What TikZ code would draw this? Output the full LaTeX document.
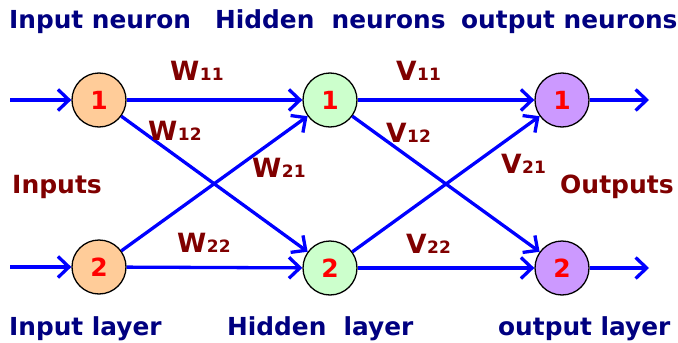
\documentclass[tikz,border=0pt]{standalone}
\usepackage{fontspec}
\setmainfont{DejaVu Sans}
\usetikzlibrary{arrows.meta}
\definecolor{navy}{HTML}{000080}
\definecolor{darkred}{HTML}{800000}
\definecolor{infill}{HTML}{FFCC99}
\definecolor{hidfill}{HTML}{CCFFCC}
\definecolor{outfill}{HTML}{CC99FF}
\newcommand\wlab[2]{{\fontsize{26.5}{26.5}\selectfont #1}\kern0.5pt{\fontsize{17}{17}\selectfont #2}}
\begin{document}
\begin{tikzpicture}[x=1pt,y=-1pt,
  neuron/.style={circle,draw=black,line width=1.3pt,minimum size=54pt,inner sep=0pt,text=red,font=\fontsize{25}{25}\selectfont\bfseries},
  conn/.style={draw=blue,line width=3.3pt,-{Straight Barb[length=11pt,width=21pt]}},
  title/.style={text=navy,font=\fontsize{24.8}{25}\selectfont\bfseries,anchor=base west,inner sep=0pt},
  side/.style={text=darkred,font=\fontsize{25}{25}\selectfont\bfseries,anchor=base west,inner sep=0pt},
  lab/.style={text=darkred,font=\bfseries,anchor=base west,inner sep=0pt}]
\useasboundingbox (0,0) rectangle (678,343);
% titles
\node[title] (t1) at (9,28) {Input neuron};
\node[title] (t2) at (215,28) {Hidden\ \ neurons};
\node[title] (t3) at (461,28) {output neurons};
\node[title] (b1) at (9,335) {Input layer};
\node[title] (b2) at (227,335) {Hidden\ \ layer};
\node[title] (b3) at (498,335) {output layer};
\node[side] (ins) at (12,193) {Inputs};
\node[side] (outs) at (560,193) {Outputs};
% neurons
\node[neuron,fill=infill] (i1) at (99,100) {1};
\node[neuron,fill=infill] (i2) at (99,267) {2};
\node[neuron,fill=hidfill] (h1) at (330,100) {1};
\node[neuron,fill=hidfill] (h2) at (330,268) {2};
\node[neuron,fill=outfill] (o1) at (562,100) {1};
\node[neuron,fill=outfill] (o2) at (562,268) {2};
\coordinate (a1) at (10,100);
\coordinate (a2) at (10,267);
\coordinate (e1) at (649,100);
\coordinate (e2) at (649,268);
% connectors
\draw[conn] (a1) -- (i1);
\draw[conn] (a2) -- (i2);
\draw[conn] (i1) -- (h1);
\draw[conn] (i1) -- (h2);
\draw[conn] (i2) -- (h1);
\draw[conn] (i2) -- (h2);
\draw[conn] (h1) -- (o1);
\draw[conn] (h1) -- (o2);
\draw[conn] (h2) -- (o1);
\draw[conn] (h2) -- (o2);
\draw[conn] (o1) -- (e1);
\draw[conn] (o2) -- (e2);
% weights
\node[lab] (w11) at (170,80) {\wlab{W}{11}};
\node[lab] (w12) at (148,140) {\wlab{W}{12}};
\node[lab] (w21) at (252,177) {\wlab{W}{21}};
\node[lab] (w22) at (177,252) {\wlab{W}{22}};
\node[lab] (v11) at (396,80) {\wlab{V}{11}};
\node[lab] (v12) at (386,142) {\wlab{V}{12}};
\node[lab] (v21) at (501,173) {\wlab{V}{21}};
\node[lab] (v22) at (406,253) {\wlab{V}{22}};
\end{tikzpicture}
\end{document}
